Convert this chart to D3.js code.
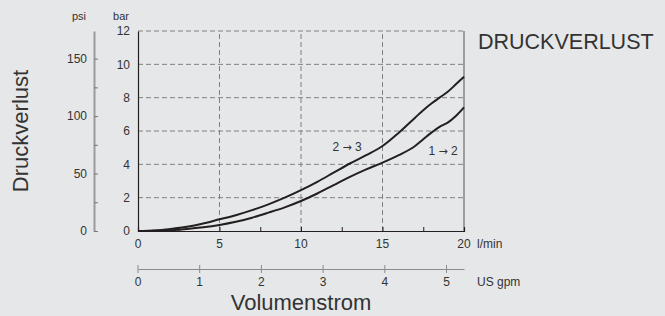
<!DOCTYPE html>
<html>
<head>
<meta charset="utf-8">
<script src="https://cdn.jsdelivr.net/npm/d3@7"></script>
<style>
  body { margin: 0; background: #e6e7e8; }
  svg { display: block; font-family: "Liberation Sans", Arial, sans-serif; }
</style>
</head>
<body>
<svg id="chart" width="665" height="316"></svg>
<script>
// flow in l/min, pressure loss in bar
var flow    = [0, 1, 2, 3, 4, 5, 6, 7, 8, 9, 10, 11, 12, 13, 14, 15, 16, 17, 17.5, 18, 18.5, 19, 19.5, 20];
var loss23  = [0, 0.03, 0.12, 0.25, 0.45, 0.7, 0.95, 1.25, 1.6, 2.0, 2.45, 2.95, 3.5, 4.05, 4.55, 5.1, 5.9, 6.8, 7.25, 7.65, 8.0, 8.35, 8.8, 9.26];
var loss12  = [0, 0.01, 0.05, 0.12, 0.22, 0.36, 0.55, 0.8, 1.1, 1.42, 1.8, 2.25, 2.75, 3.25, 3.7, 4.1, 4.55, 5.1, 5.5, 5.9, 6.25, 6.5, 6.9, 7.42];
var barTicks  = [0, 2, 4, 6, 8, 10, 12];
var psiTicks  = [0, 50, 100, 150];
var flowTicks = [0, 5, 10, 15, 20];
var gpmTicks  = [0, 1, 2, 3, 4, 5];

var BAR_PER_PSI = 0.0689476;
var LPM_PER_GPM = 3.78541;

var svg = d3.select("#chart");
var x = d3.scaleLinear().domain([0, 20]).range([138, 464]);
var y = d3.scaleLinear().domain([0, 12]).range([231, 31]);

var gridCol = "#808080";
var ink = "#231f20";

// dashed grid
svg.append("g").selectAll("line")
  .data(barTicks.filter(d => d > 0))
  .enter().append("line")
  .attr("x1", x(0)).attr("x2", x(20))
  .attr("y1", d => y(d)).attr("y2", d => y(d))
  .attr("stroke", gridCol).attr("stroke-width", 1)
  .attr("stroke-dasharray", "5,3");

svg.append("g").selectAll("line")
  .data([5, 10, 15])
  .enter().append("line")
  .attr("x1", d => x(d)).attr("x2", d => x(d))
  .attr("y1", y(0)).attr("y2", y(12))
  .attr("stroke", gridCol).attr("stroke-width", 1)
  .attr("stroke-dasharray", "5,3");

// right border
svg.append("line")
  .attr("x1", x(20)).attr("x2", x(20)).attr("y1", y(0)).attr("y2", y(12))
  .attr("stroke", "#6d6d6d").attr("stroke-width", 1.2);

// bar axis (left)
var barAxis = svg.append("g")
  .attr("transform", `translate(${x(0)},0)`)
  .call(d3.axisLeft(y).tickValues(barTicks).tickSize(0).tickPadding(8));
barAxis.select(".domain").attr("stroke", ink).attr("stroke-width", 1.2);
barAxis.selectAll("text").attr("font-size", 12).attr("fill", "#333");

// flow axis (bottom), ticks point inward
var flowAxis = svg.append("g")
  .attr("transform", `translate(0,${y(0)})`)
  .call(d3.axisTop(x).tickValues([2.5, 5, 7.5, 10, 12.5, 15, 17.5]).tickSize(4).tickFormat(""));
flowAxis.select(".domain").attr("stroke", ink).attr("stroke-width", 1.2);
flowAxis.selectAll(".tick line").attr("stroke", ink);

svg.append("g").selectAll("text")
  .data(flowTicks)
  .enter().append("text")
  .attr("x", d => x(d)).attr("y", 248)
  .attr("text-anchor", "middle").attr("font-size", 12).attr("fill", "#333")
  .text(d => d);
svg.append("text").attr("x", 477).attr("y", 248)
  .attr("font-size", 12).attr("fill", "#333").text("l/min");

// psi axis
var yPsi = d3.scaleLinear().domain([0, 12 / BAR_PER_PSI]).range([231, 31]);
var psiAxis = svg.append("g")
  .attr("transform", "translate(94,0)")
  .call(d3.axisRight(yPsi).tickValues([0, 25, 50, 75, 100, 125, 150]).tickSize(4).tickSizeOuter(0).tickFormat(""));
psiAxis.select(".domain").attr("stroke", "#9a9a9a").attr("stroke-width", 2);
psiAxis.selectAll(".tick line").attr("stroke", "#777");

svg.append("g").selectAll("text")
  .data(psiTicks)
  .enter().append("text")
  .attr("x", 87).attr("y", d => yPsi(d) + 4)
  .attr("text-anchor", "end").attr("font-size", 12).attr("fill", "#333")
  .text(d => d);

svg.append("text").attr("x", 79).attr("y", 20).attr("text-anchor", "middle")
  .attr("font-size", 11).attr("fill", "#333").text("psi");
svg.append("text").attr("x", 121).attr("y", 20).attr("text-anchor", "middle")
  .attr("font-size", 11).attr("fill", "#333").text("bar");

// US gpm axis
var xGpm = d3.scaleLinear().domain([0, 20 / LPM_PER_GPM]).range([138, 464]);
var gpmAxis = svg.append("g")
  .attr("transform", "translate(0,269)")
  .call(d3.axisBottom(xGpm).tickValues(gpmTicks).tickSize(0).tickFormat(""));
gpmAxis.select(".domain").attr("stroke", "#8a8a8a").attr("stroke-width", 1);
svg.append("g").selectAll("line")
  .data(gpmTicks)
  .enter().append("line")
  .attr("x1", d => xGpm(d)).attr("x2", d => xGpm(d))
  .attr("y1", 265).attr("y2", 273)
  .attr("stroke", "#8a8a8a");
svg.append("g").selectAll("text")
  .data(gpmTicks)
  .enter().append("text")
  .attr("x", d => xGpm(d)).attr("y", 286)
  .attr("text-anchor", "middle").attr("font-size", 12).attr("fill", "#333")
  .text(d => d);
svg.append("text").attr("x", 477).attr("y", 286)
  .attr("font-size", 12).attr("fill", "#333").text("US gpm");

// curves
var line = d3.line()
  .x(d => x(d[0]))
  .y(d => y(d[1]))
  .curve(d3.curveMonotoneX);

svg.append("path")
  .datum(flow.map((f, i) => [f, loss23[i]]))
  .attr("d", line).attr("fill", "none")
  .attr("stroke", ink).attr("stroke-width", 2);
svg.append("path")
  .datum(flow.map((f, i) => [f, loss12[i]]))
  .attr("d", line).attr("fill", "none")
  .attr("stroke", ink).attr("stroke-width", 2);

function curveLabel(cx, cy, a, b) {
  var t = svg.append("text").attr("x", cx).attr("y", cy).attr("text-anchor", "middle")
    .attr("font-size", 12).attr("fill", "#333");
  t.append("tspan").text(a + " ");
  t.append("tspan").attr("font-family", "DejaVu Sans").attr("font-size", 11).text("\u2192");
  t.append("tspan").text(" " + b);
}
curveLabel(347, 151, 2, 3);
curveLabel(443, 155, 1, 2);

// titles
svg.append("text").attr("x", 478).attr("y", 49)
  .attr("font-size", 21.5).attr("fill", "#333").text("DRUCKVERLUST");
svg.append("text")
  .attr("transform", "translate(28,131) rotate(-90)")
  .attr("text-anchor", "middle").attr("font-size", 22).attr("fill", "#333")
  .text("Druckverlust");
svg.append("text").attr("x", 301).attr("y", 310).attr("text-anchor", "middle")
  .attr("font-size", 22).attr("fill", "#333").text("Volumenstrom");
</script>
</body>
</html>
